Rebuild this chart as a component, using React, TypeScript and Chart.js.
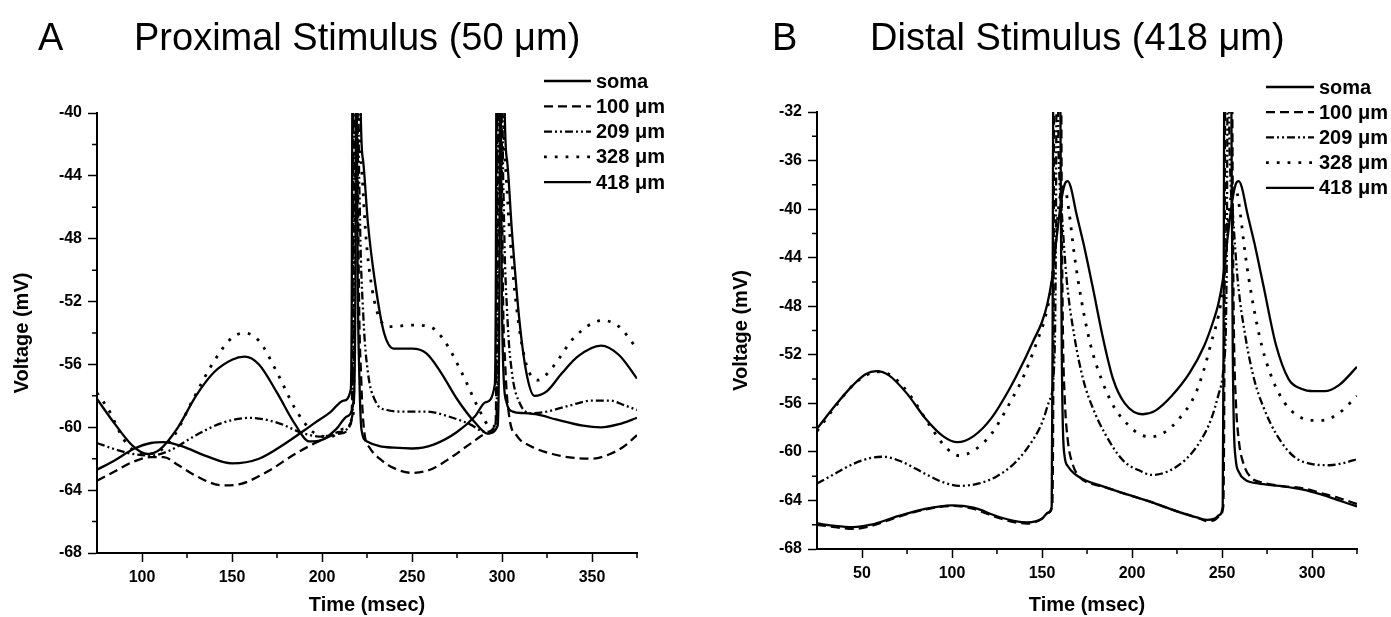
import React, { useEffect, useRef } from "react";
import { Chart, registerables } from "chart.js";

Chart.register(...registerables);

// ---------- labels ----------
const seriesLabels = ["soma", "100 \u03bcm", "209 \u03bcm", "328 \u03bcm", "418 \u03bcm"];

// ---------- Panel A: Proximal stimulus ----------
const aXTicks = [100, 150, 200, 250, 300, 350];
const aXMinor = [125, 175, 225, 275, 325, 375];
const aYMinor = [-66, -62, -58, -54, -50, -46, -42];

const aSomaT = [75, 85, 95, 105, 112, 122, 135, 150, 165, 180, 195, 205, 212, 216.0, 216.6, 216.85, 218, 219.25, 219.8, 220.8, 222, 225, 232, 240, 250, 262, 275, 285, 291, 296.0, 296.6, 296.85, 298, 299.25, 299.8, 300.8, 302.5, 306, 312, 320, 330, 345, 355, 365, 375];
const aSomaV = [-62.7, -62.1, -61.4, -61.0, -60.95, -61.2, -61.8, -62.3, -62.0, -61.0, -59.8, -59.0, -58.3, -57.6, -50, -38, 20, -38, -50, -57, -60.2, -60.9, -61.2, -61.3, -61.35, -61.1, -60.3, -59.3, -58.4, -57.3, -50, -38, 20, -38, -50, -56.5, -58.4, -59.0, -59.1, -59.2, -59.5, -59.9, -60.0, -59.8, -59.4];

const a100T = [75, 85, 95, 105, 112, 120, 130, 145, 155, 170, 185, 200, 210, 216.4, 217.1, 217.35, 218.5, 219.75, 220.4, 221.8, 223.5, 226.5, 232, 240, 250, 260, 272, 283, 292, 296.4, 297.1, 297.35, 298.5, 299.75, 300.4, 301.8, 304, 308, 316, 328, 340, 350, 360, 368, 375];
const a100V = [-63.4, -62.8, -62.2, -61.9, -61.9, -62.4, -63.1, -63.7, -63.6, -62.8, -61.7, -60.8, -60.4, -59.6, -50, -38, 20, -38, -50, -57, -60.3, -61.3, -62.0, -62.6, -62.9, -62.7, -61.9, -61.0, -60.4, -59.9, -50, -38, 20, -38, -50, -56, -59.3, -60.5, -61.2, -61.7, -61.95, -62.0, -61.7, -61.2, -60.5];

const a209T = [75, 85, 95, 105, 115, 130, 145, 160, 175, 190, 200, 210, 216.8, 217.6, 217.85, 219, 220.25, 221, 223, 225.5, 229.5, 236, 245, 258, 270, 282, 291, 296.8, 297.6, 297.85, 299, 300.25, 301, 303, 305.5, 310, 316, 325, 338, 350, 360, 368, 375];
const a209V = [-61.0, -61.4, -61.7, -61.8, -61.5, -60.5, -59.7, -59.4, -59.7, -60.4, -60.6, -60.3, -59.3, -50, -38, 20, -38, -46, -53, -56.5, -58.3, -58.9, -59.0, -59.0, -59.3, -59.8, -60.3, -59.7, -50, -38, 20, -38, -46, -53, -56.5, -58.5, -59.1, -59.0, -58.6, -58.3, -58.3, -58.6, -58.9];

const a328T = [75, 82, 90, 100, 108, 118, 128, 140, 150, 157, 165, 175, 185, 195, 205, 212, 217.2, 218.1, 218.35, 219.5, 220.75, 222, 224.5, 228, 232.5, 238, 250, 260, 268, 278, 287, 294, 297.2, 298.1, 298.35, 299.5, 300.75, 302, 304.5, 308, 313, 320, 328, 340, 356, 365, 375];
const a328V = [-57.8, -59.0, -60.8, -61.7, -61.6, -60.5, -58.3, -55.8, -54.3, -54.0, -54.5, -56.5, -58.8, -60.3, -60.6, -60.1, -59.3, -50, -38, 20, -38, -43.5, -48, -51.3, -53.2, -53.6, -53.5, -53.6, -54.5, -56.6, -58.8, -60.0, -59.5, -50, -38, 20, -38, -43.5, -48, -52.3, -55.8, -57.0, -56.2, -54.3, -53.2, -53.6, -55.0];

const a418T = [75, 85, 95, 103, 110, 120, 130, 140, 150, 157, 165, 175, 185, 193, 200, 208, 214, 217.6, 218.6, 218.85, 220, 221.25, 222.8, 225.5, 229.5, 234.5, 240, 250, 258, 266, 275, 285, 292, 297.6, 298.6, 298.85, 300, 301.25, 302.8, 305.5, 309.5, 313.5, 318, 325, 333, 342, 355, 365, 375];
const a418V = [-58.2, -59.8, -61.2, -61.7, -61.4, -60.0, -58.0, -56.5, -55.7, -55.5, -56.0, -57.8, -59.8, -60.9, -60.8, -60.1, -59.3, -58.4, -50, -38, 20, -38, -43, -47, -50.8, -54.0, -55.0, -55.0, -55.3, -56.5, -58.2, -59.7, -60.4, -59.9, -50, -38, 20, -38, -43, -47.5, -53, -56.5, -58.0, -57.7, -56.6, -55.5, -54.8, -55.4, -56.9];

// ---------- Panel B: Distal stimulus ----------
const bXTicks = [50, 100, 150, 200, 250, 300];
const bXMinor = [75, 125, 175, 225, 275, 325];
const bYMinor = [-66, -62, -58, -54, -50, -46, -42, -38, -34];

const bSomaT = [25, 35, 45, 55, 70, 85, 100, 112, 125, 135, 142, 150, 153.5, 155.4, 155.9, 156.3, 157.5, 160.0, 160.5, 161.0, 161.6, 162.6, 164.5, 168, 175, 183, 195, 210, 225, 236, 242, 246, 248.5, 250.4, 250.9, 251.3, 252.5, 255.0, 255.5, 256.0, 256.6, 257.6, 259.5, 263, 270, 282, 295, 305, 315, 325];
const bSomaV = [-65.9, -66.1, -66.2, -66.0, -65.3, -64.7, -64.4, -64.6, -65.3, -65.7, -65.8, -65.5, -65.0, -64.5, -50, -25, 10, -25, -40, -52, -58, -60.4, -61.2, -61.8, -62.4, -62.8, -63.4, -64.1, -64.9, -65.4, -65.6, -65.5, -65.2, -64.5, -50, -25, 10, -25, -40, -52, -58, -60.6, -61.7, -62.3, -62.6, -62.8, -63.1, -63.5, -64.0, -64.5];

const b100T = [25, 35, 45, 55, 70, 85, 100, 112, 125, 135, 142, 150, 153.5, 155.7, 156.4, 156.8, 158, 160.5, 161.0, 161.6, 162.6, 164.3, 167, 171, 177, 185, 195, 210, 225, 236, 242, 246, 248.5, 250.7, 251.4, 251.8, 253, 255.5, 256.0, 256.6, 257.6, 259.3, 262, 266, 272, 282, 295, 305, 315, 325];
const b100V = [-66.0, -66.2, -66.35, -66.1, -65.35, -64.75, -64.45, -64.7, -65.4, -65.8, -65.9, -65.5, -65.0, -64.5, -50, -25, 10, -25, -40, -50, -55.5, -59, -61, -62.1, -62.6, -62.9, -63.4, -64.1, -64.9, -65.4, -65.7, -65.6, -65.3, -64.5, -50, -25, 10, -25, -40, -50, -55.5, -59, -61, -62.1, -62.5, -62.8, -63.0, -63.4, -63.8, -64.3];

const b209T = [25, 35, 45, 55, 62, 72, 85, 95, 104, 115, 125, 135, 145, 150, 154, 156.5, 157.6, 158.0, 158.5, 159.0, 159.6, 161, 163.7, 168, 173, 178, 185, 195, 205, 211, 220, 230, 238, 244, 248, 251, 252.6, 253.0, 253.5, 254.0, 254.6, 256, 258.7, 263, 268, 273, 280, 290, 300, 310, 318, 325];
const b209V = [-62.6, -61.8, -61.0, -60.5, -60.4, -60.8, -61.8, -62.5, -62.8, -62.6, -62.0, -60.9, -59.0, -57.6, -55.8, -53.5, -45, -32, -15, -32, -37, -40.3, -45.8, -50.5, -54.1, -56.3, -58.5, -60.7, -61.6, -61.9, -61.6, -60.6, -59.1, -57.3, -55.3, -52.8, -45, -32, -15, -32, -37, -40.3, -45.8, -50.5, -54.1, -56.3, -58.5, -60.4, -61.0, -61.1, -60.9, -60.6];

const b328T = [25, 35, 45, 55, 60, 68, 78, 88, 97, 104, 112, 122, 132, 140, 147, 152, 155, 157.5, 159.5, 161.5, 163, 165, 168, 172, 177, 183, 190, 198, 205, 211, 218, 226, 235, 240, 244, 248, 250.5, 252.5, 254.5, 256.5, 258, 260, 263, 267, 272, 278, 285, 293, 300, 306, 315, 325];
const b328V = [-58.3, -56.3, -54.5, -53.5, -53.4, -53.9, -55.6, -57.9, -59.7, -60.3, -59.9, -58.5, -56.0, -53.7, -51.0, -48.8, -46.5, -43, -39.5, -38.2, -38.4, -40.2, -43.8, -47.6, -51.2, -54.0, -56.3, -57.8, -58.6, -58.75, -58.4, -57.3, -55.3, -53.2, -51.0, -48.8, -46.5, -43, -39.5, -38.2, -38.4, -40.2, -43.8, -47.6, -51.2, -54.0, -56.0, -57.1, -57.4, -57.4, -56.8, -55.4];

const b418T = [25, 35, 45, 52, 58, 65, 75, 85, 95, 103, 112, 122, 132, 140, 145, 150, 153, 155.5, 158, 160.5, 162.5, 164.3, 166, 169, 173, 178, 184, 189.5, 196, 206, 213, 222, 232, 240, 245, 248, 250.5, 253, 255.5, 257.5, 259.3, 261, 264, 268, 273, 280, 287, 294, 301, 307, 315, 325];
const b418V = [-58.1, -56.2, -54.5, -53.6, -53.35, -53.7, -55.2, -57.2, -58.7, -59.2, -58.7, -57.2, -54.8, -52.5, -50.9, -49.3, -47.8, -45.8, -42.5, -39.5, -38.0, -37.7, -38.2, -40.3, -42.8, -46.3, -50.7, -54.0, -56.0, -56.9, -56.6, -55.4, -53.5, -51.3, -49.3, -47.8, -45.8, -42.5, -39.5, -38.0, -37.7, -38.2, -40.3, -42.8, -46.3, -51.2, -54.0, -54.8, -55.0, -55.0, -54.5, -53.0];

// ---------- styles ----------
const FONT = "'Liberation Sans', Arial, Helvetica, sans-serif";
const lineStyles = [
  { dash: [] as number[], width: 2.3 },
  { dash: [9, 5], width: 2.3 },
  { dash: [8, 3, 2, 3, 2, 3], width: 2.3 },
  { dash: [2.8, 8], width: 2.8 },
  { dash: [] as number[], width: 2.3 },
];

type Panel = {
  letter: string;
  title: string;
  left: number;
  width: number;
  series: [number[], number[]][];
  xMin: number;
  xMax: number;
  yMin: number;
  yMax: number;
  xTicks: number[];
  xMinor: number[];
  yMinor: number[];
  g: {
    yAxisW: number;
    xAxisH: number;
    padTop: number;
    padRight: number;
    yTitlePad: number;
    letterX: number;
    titleX: number;
    titleY: number;
    legX0: number;
    legX1: number;
    legTextX: number;
    legY0: number;
    legDy: number;
  };
};

const panels: Panel[] = [
  {
    letter: "A",
    title: "Proximal Stimulus (50 \u03bcm)",
    left: 0,
    width: 700,
    series: [[aSomaT, aSomaV], [a100T, a100V], [a209T, a209V], [a328T, a328V], [a418T, a418V]],
    xMin: 75,
    xMax: 375,
    yMin: -68,
    yMax: -40,
    xTicks: aXTicks,
    xMinor: aXMinor,
    yMinor: aYMinor,
    g: { yAxisW: 97, xAxisH: 64, padTop: 113, padRight: 63, yTitlePad: 10, letterX: 38, titleX: 134, titleY: 50, legX0: 544, legX1: 591, legTextX: 596, legY0: 81, legDy: 25.3 },
  },
  {
    letter: "B",
    title: "Distal Stimulus (418 \u03bcm)",
    left: 700,
    width: 691,
    series: [[bSomaT, bSomaV], [b100T, b100V], [b209T, b209V], [b328T, b328V], [b418T, b418V]],
    xMin: 25,
    xMax: 325,
    yMin: -68,
    yMax: -32,
    xTicks: bXTicks,
    xMinor: bXMinor,
    yMinor: bYMinor,
    g: { yAxisW: 117, xAxisH: 68, padTop: 112, padRight: 34, yTitlePad: 29, letterX: 72, titleX: 170, titleY: 50, legX0: 566, legX1: 614, legTextX: 619, legY0: 87, legDy: 25.2 },
  },
];

function makeChart(canvas: HTMLCanvasElement, p: Panel) {
  const g = p.g;
  const decorPlugin = {
    id: "decor" + p.letter,
    afterDraw(chart: any) {
      const ctx = chart.ctx as CanvasRenderingContext2D;
      const xs = chart.scales.x;
      const ys = chart.scales.y;
      const area = chart.chartArea;
      ctx.save();
      // minor ticks
      ctx.strokeStyle = "#000";
      ctx.lineWidth = 1.5;
      ctx.setLineDash([]);
      ctx.beginPath();
      p.xMinor.forEach((v) => {
        const px = xs.getPixelForValue(v);
        ctx.moveTo(px, area.bottom);
        ctx.lineTo(px, area.bottom + 5);
      });
      p.yMinor.forEach((v) => {
        const py = ys.getPixelForValue(v);
        ctx.moveTo(area.left - 5, py);
        ctx.lineTo(area.left, py);
      });
      ctx.stroke();
      // panel letter + title
      ctx.fillStyle = "#000";
      ctx.font = `38px ${FONT}`;
      ctx.textBaseline = "alphabetic";
      ctx.textAlign = "left";
      ctx.fillText(p.letter, g.letterX, g.titleY);
      ctx.fillText(p.title, g.titleX, g.titleY);
      // legend
      ctx.font = `bold 20px ${FONT}`;
      ctx.textBaseline = "middle";
      chart.data.datasets.forEach((ds: any, i: number) => {
        const y = g.legY0 + i * g.legDy;
        ctx.beginPath();
        ctx.setLineDash(ds.borderDash || []);
        ctx.lineWidth = ds.borderWidth;
        ctx.moveTo(g.legX0, y);
        ctx.lineTo(g.legX1, y);
        ctx.stroke();
        ctx.setLineDash([]);
        ctx.fillText(ds.label, g.legTextX, y + 1);
      });
      ctx.restore();
    },
  };

  return new Chart(canvas, {
    type: "line",
    data: {
      datasets: p.series.map(([t, v], i) => ({
        label: seriesLabels[i],
        data: t.map((x, k) => ({ x, y: v[k] })),
        borderColor: "#000",
        backgroundColor: "#000",
        borderWidth: lineStyles[i].width,
        borderDash: lineStyles[i].dash,
        pointRadius: 0,
        fill: false,
        cubicInterpolationMode: "monotone" as const,
      })),
    },
    options: {
      animation: false,
      responsive: false,
      devicePixelRatio: 1,
      events: [],
      layout: { padding: { left: 0, top: g.padTop, right: g.padRight, bottom: 0 } },
      plugins: {
        legend: { display: false },
        title: { display: false },
        tooltip: { enabled: false },
      },
      scales: {
        x: {
          type: "linear",
          min: p.xMin,
          max: p.xMax,
          afterBuildTicks: (scale: any) => {
            scale.ticks = p.xTicks.map((value) => ({ value }));
          },
          afterFit: (scale: any) => {
            scale.height = g.xAxisH;
          },
          grid: { drawOnChartArea: false, drawTicks: true, tickLength: 9, tickColor: "#000", tickWidth: 1.5 },
          border: { display: true, color: "#000", width: 2 },
          ticks: { color: "#000", font: { family: FONT, size: 16, weight: "bold" }, padding: 6, maxRotation: 0, autoSkip: false },
          title: { display: true, text: "Time (msec)", color: "#000", font: { family: FONT, size: 20, weight: "bold" }, padding: { top: 0, bottom: 0 } },
        },
        y: {
          type: "linear",
          min: p.yMin,
          max: p.yMax,
          ticks: { stepSize: 4, color: "#000", font: { family: FONT, size: 16, weight: "bold" }, padding: 6, autoSkip: false },
          afterFit: (scale: any) => {
            scale.width = g.yAxisW;
          },
          grid: { drawOnChartArea: false, drawTicks: true, tickLength: 9, tickColor: "#000", tickWidth: 1.5 },
          border: { display: true, color: "#000", width: 2 },
          title: { display: true, text: "Voltage (mV)", color: "#000", font: { family: FONT, size: 20, weight: "bold" }, padding: { top: g.yTitlePad, bottom: 0 } },
        },
      },
    },
    plugins: [decorPlugin],
  } as any);
}

function PanelChart({ p }: { p: Panel }) {
  const ref = useRef<HTMLCanvasElement | null>(null);
  useEffect(() => {
    if (!ref.current) return;
    const chart = makeChart(ref.current, p);
    return () => chart.destroy();
  }, [p]);
  return (
    <canvas
      ref={ref}
      width={p.width}
      height={617}
      style={{ position: "absolute", left: p.left, top: 0, width: p.width, height: 617 }}
    />
  );
}

export default function App() {
  return (
    <div style={{ position: "fixed", left: 0, top: 0, width: 1391, height: 617, background: "#fff", overflow: "hidden" }}>
      {panels.map((p) => (
        <PanelChart key={p.letter} p={p} />
      ))}
    </div>
  );
}
